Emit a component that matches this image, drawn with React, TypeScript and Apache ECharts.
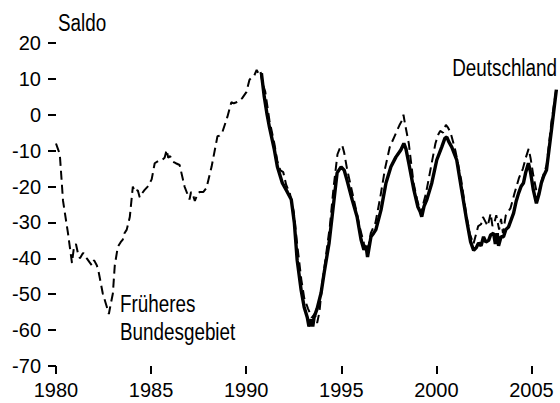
import React, { useEffect, useRef } from "react";
import * as echarts from "echarts";

const xTickYears = [1980, 1985, 1990, 1995, 2000, 2005];
const yTicks = [-70, -60, -50, -40, -30, -20, -10, 0, 10, 20];

const westYears = [
  1980.0, 1980.1, 1980.2, 1980.37, 1980.63, 1980.84, 1980.94, 1981.05, 1981.15, 1981.26,
  1981.42, 1981.55, 1981.62, 1981.75, 1981.89, 1982.0, 1982.15, 1982.25, 1982.46, 1982.67,
  1982.78, 1982.85, 1982.99, 1983.09, 1983.25, 1983.4, 1983.51, 1983.6, 1983.72, 1983.88,
  1984.04, 1984.15, 1984.3, 1984.4, 1984.51, 1984.65, 1984.82, 1985.03, 1985.19, 1985.45,
  1985.6, 1985.71, 1985.82, 1985.9, 1986.0, 1986.13, 1986.3, 1986.5, 1986.76, 1987.02,
  1987.1, 1987.18, 1987.3, 1987.45, 1987.55, 1987.75, 1987.91, 1988.18, 1988.49, 1988.6,
  1988.75, 1989.01, 1989.22, 1989.35, 1989.49, 1989.65, 1989.8, 1990.01, 1990.17, 1990.3,
  1990.43, 1990.55, 1990.65, 1990.75, 1990.85, 1991.0, 1991.22, 1991.48, 1991.64, 1991.8,
  1991.95, 1992.1, 1992.3, 1992.5, 1992.7, 1992.9, 1993.05, 1993.25, 1993.45, 1993.6,
  1993.73, 1993.85, 1994.0, 1994.15, 1994.4, 1994.6, 1994.8, 1994.95, 1995.05, 1995.15,
  1995.3, 1995.55, 1995.8, 1996.0, 1996.2, 1996.35, 1996.45, 1996.55, 1996.8, 1997.05,
  1997.3, 1997.55, 1997.8, 1998.05, 1998.2, 1998.27, 1998.35, 1998.55, 1998.8, 1999.0,
  1999.2, 1999.3, 1999.45, 1999.7, 1999.95, 2000.1, 2000.2, 2000.35, 2000.5, 2000.6,
  2000.75, 2001.0, 2001.3, 2001.55, 2001.75, 2001.95, 2002.1, 2002.2, 2002.35, 2002.45,
  2002.55, 2002.7, 2002.85, 2002.95, 2003.05, 2003.15, 2003.3, 2003.4, 2003.5, 2003.65,
  2003.9, 2004.1, 2004.35, 2004.55, 2004.7, 2004.85, 2004.95, 2005.1, 2005.25, 2005.35,
  2005.55, 2005.8, 2006.05, 2006.3,
];
const westValues = [
  -8, -9.5, -11, -24, -33, -41.3, -37, -36, -38.5, -40,
  -38.5, -39, -40, -41, -42, -40.5, -42, -44, -49.8, -53.5,
  -55.5, -53.5, -49.8, -42, -36.8, -35.5, -34.8, -33, -32, -28.5,
  -20, -21.5, -21, -23, -22, -21, -20, -18, -13.5, -12.6,
  -12.5, -12, -9.8, -12, -11.5, -13, -13.5, -14, -20, -23.6,
  -21.5, -22, -24, -22, -21.5, -21.5, -20.4, -14.5, -6, -5.8,
  -4.8, -0.6, 3.5, 3.2, 3.5, 4, 4.7, 6.3, 9.7, 10.5,
  11, 12.5, 11.5, 12.2, 9, 6.5, -1.5, -8, -13, -15.5,
  -16, -19.5, -22, -27, -37, -46, -51, -54, -56.5, -55.5,
  -58, -55, -47, -41, -31, -20, -11, -9, -8.5, -10.5,
  -15, -21, -27, -32, -36, -38.5, -36, -33, -30, -23,
  -15, -9, -6, -3, -1.5, 0, -2.5, -8, -19, -24,
  -27.5, -25, -22, -15, -8, -5.5, -4.5, -5, -2.8, -3.5,
  -5, -10, -18, -27, -33, -36, -33, -31, -30.5, -28.5,
  -29.5, -31, -27.5, -31, -30, -28, -32, -29, -33, -28,
  -26, -22, -17.5, -15, -12, -9.5, -12, -17, -21, -22.5,
  -18, -14, -2, 7,
];

const deYears = [
  1990.8, 1990.95, 1991.1, 1991.22, 1991.48, 1991.64, 1991.9, 1992.16, 1992.37, 1992.53,
  1992.68, 1992.89, 1993.05, 1993.21, 1993.3, 1993.42, 1993.5, 1993.57, 1993.73, 1993.94,
  1994.1, 1994.36, 1994.62, 1994.78, 1994.99, 1995.15, 1995.3, 1995.57, 1995.83, 1996.04,
  1996.19, 1996.3, 1996.38, 1996.56, 1996.7, 1996.82, 1997.09, 1997.35, 1997.61, 1997.87,
  1998.13, 1998.29, 1998.4, 1998.55, 1998.82, 1999.03, 1999.15, 1999.23, 1999.35, 1999.5,
  1999.76, 2000.02, 2000.28, 2000.45, 2000.55, 2000.65, 2000.81, 2001.07, 2001.33, 2001.59,
  2001.8, 2001.96, 2002.1, 2002.22, 2002.35, 2002.48, 2002.6, 2002.75, 2002.85, 2003.01,
  2003.1, 2003.2, 2003.27, 2003.4, 2003.53, 2003.65, 2003.79, 2004.06, 2004.2, 2004.32,
  2004.45, 2004.58, 2004.7, 2004.84, 2004.95, 2005.1, 2005.26, 2005.4, 2005.52, 2005.65,
  2005.79, 2006.05, 2006.31,
];
const deValues = [
  11.6, 5, 0, -3.4, -9.7, -14.5, -19, -21.5, -23.6, -30,
  -40.5, -48.9, -53.6, -56.4, -59, -57, -59, -56.4, -54, -49.6,
  -44, -35.7, -23.6, -16.2, -14.5, -15.4, -18.2, -23.6, -28.4, -34.8,
  -37.6, -36.5, -39.6, -34, -33, -32, -26.5, -19, -14.5, -11.8,
  -9.8, -8, -9.5, -13.5, -21, -25.7, -27, -28.4, -25.5, -23.6,
  -19, -12.6, -9, -6.5, -6.2, -7.5, -9, -12.6, -21, -29.3,
  -35.4, -37.8, -37, -35.7, -36.5, -34, -35.5, -35, -33.5, -33,
  -36, -33, -36.5, -34, -34, -32, -31.3, -27.4, -24, -21.9,
  -20, -19, -16, -13.5, -16, -21, -24.7, -22, -19, -17,
  -15.4, -4.3, 7,
];

const FONT = "'Liberation Sans', Arial, sans-serif";
const FS = 20;
const ANN_FS = 23;
const ANN_SCALE = 0.82;

export default function App() {
  const ref = useRef<HTMLDivElement>(null);
  useEffect(() => {
    if (!ref.current) return;
    const chart = echarts.init(ref.current, null, { renderer: "svg" });
    const west = westYears.map((y, i) => [y, westValues[i]]);
    const de = deYears.map((y, i) => [y, deValues[i]]);
    const ann = (text: string, x: number, y: number, align: string) => ({
      type: "text",
      x,
      y,
      scaleX: ANN_SCALE,
      style: {
        text,
        fontFamily: FONT,
        fontSize: ANN_FS,
        fill: "#000",
        textAlign: align,
        textVerticalAlign: "middle",
      },
    });
    chart.setOption({
      animation: false,
      backgroundColor: "#fff",
      grid: { left: 56, right: 0, top: 43, bottom: 37, containLabel: false },
      xAxis: {
        type: "value",
        min: 1980,
        max: 2006.5,
        interval: 5,
        axisLine: { show: false, onZero: false },
        splitLine: { show: false },
        axisTick: {
          show: true,
          inside: false,
          length: 8,
          lineStyle: { color: "#000", width: 2 },
          customValues: xTickYears,
        },
        axisLabel: {
          color: "#000",
          fontFamily: FONT,
          fontSize: FS,
          margin: 14,
          customValues: xTickYears,
          formatter: (v: number) => String(v),
        },
      },
      yAxis: {
        type: "value",
        min: -70,
        max: 20,
        interval: 10,
        axisLine: { show: false, onZero: false },
        splitLine: { show: false },
        axisTick: {
          show: true,
          inside: false,
          length: 8,
          lineStyle: { color: "#000", width: 2 },
          customValues: yTicks,
        },
        axisLabel: {
          color: "#000",
          fontFamily: FONT,
          fontSize: FS,
          margin: 15,
          customValues: yTicks,
        },
      },
      series: [
        {
          type: "line",
          name: "Früheres Bundesgebiet",
          data: west,
          showSymbol: false,
          symbol: "none",
          lineStyle: { color: "#000", width: 2, type: [9, 5] },
          z: 2,
        },
        {
          type: "line",
          name: "Deutschland",
          data: de,
          showSymbol: false,
          symbol: "none",
          lineStyle: { color: "#000", width: 3.4 },
          z: 3,
        },
      ],
      graphic: [
        ann("Saldo", 58, 23, "left"),
        ann("Deutschland", 557, 68, "right"),
        ann("Früheres", 120, 304, "left"),
        ann("Bundesgebiet", 120, 332, "left"),
      ],
    });
    return () => chart.dispose();
  }, []);
  return (
    <div
      ref={ref}
      style={{ position: "absolute", left: 0, top: 0, width: 560, height: 403 }}
    />
  );
}
